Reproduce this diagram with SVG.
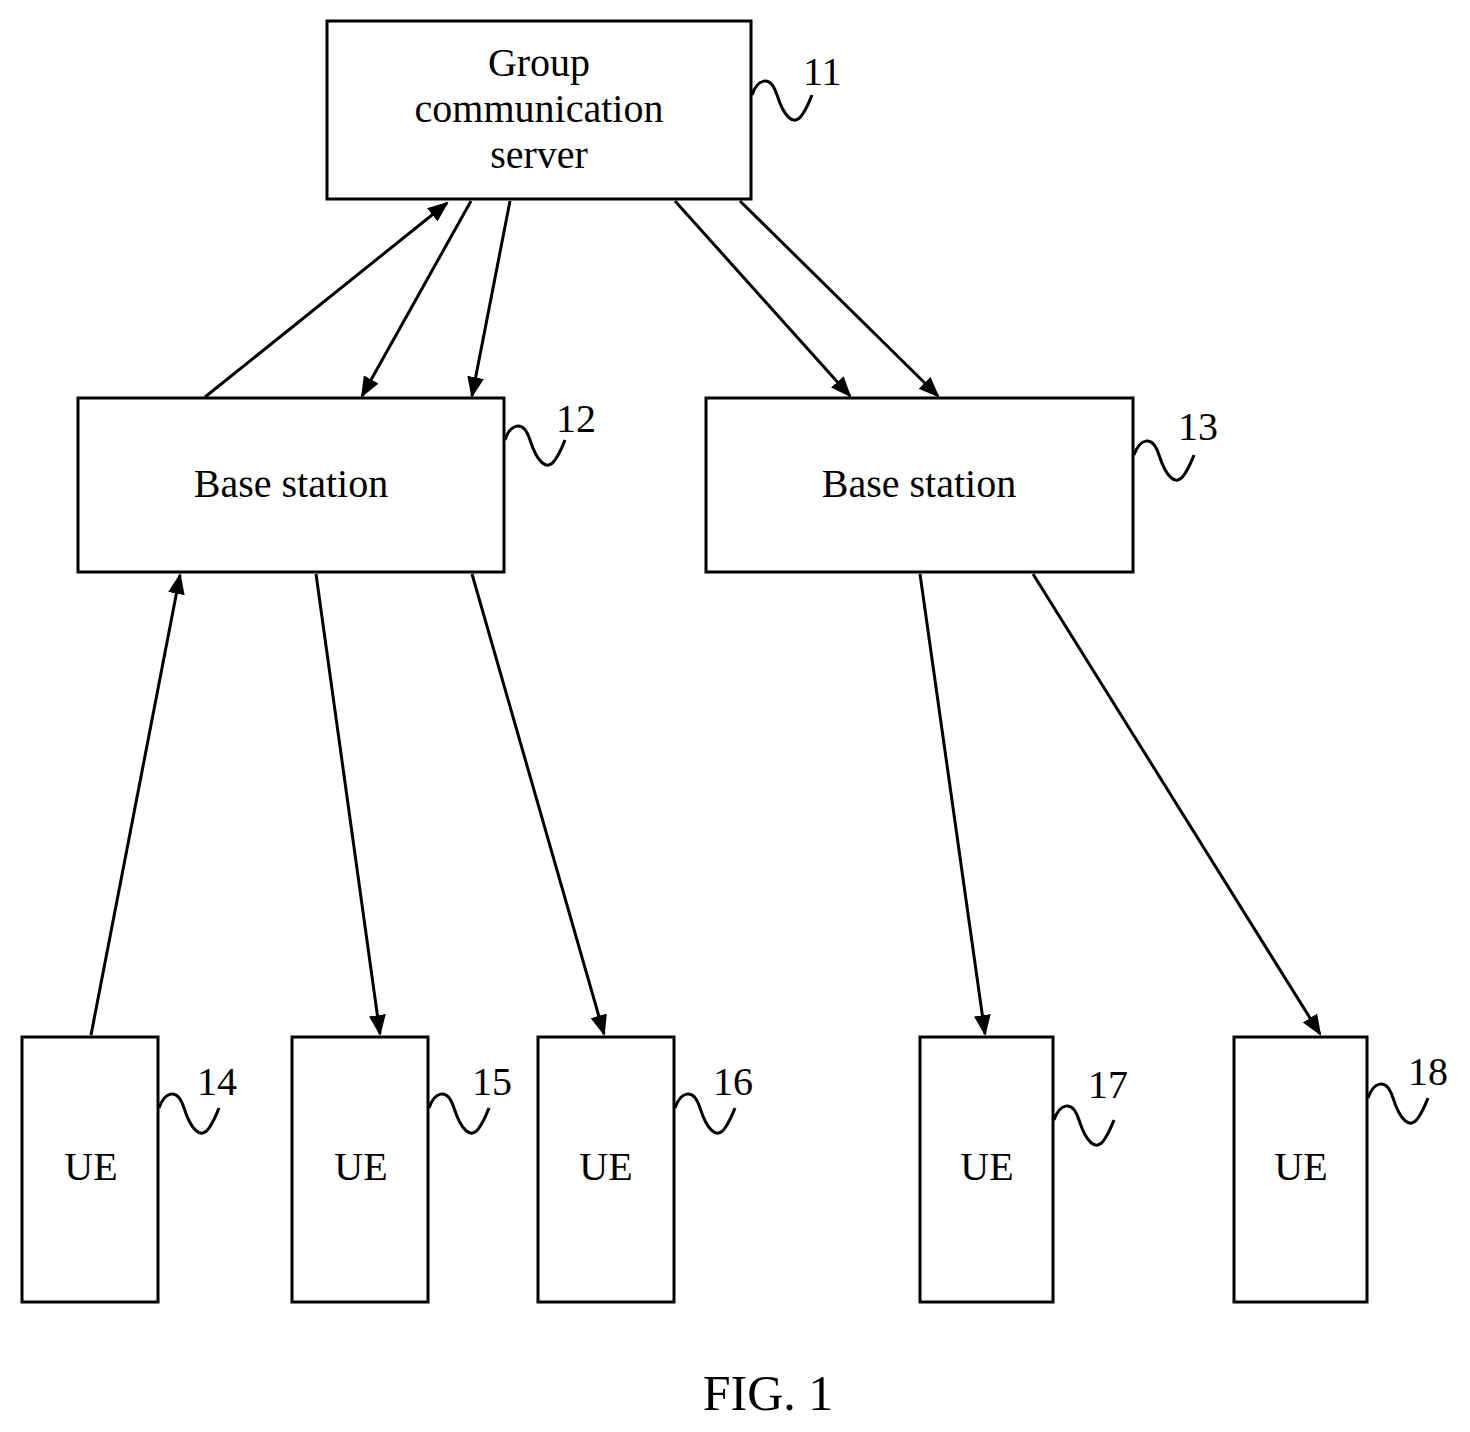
<svg xmlns="http://www.w3.org/2000/svg" width="1470" height="1432" viewBox="0 0 1470 1432">
<style>
.b{fill:#fff;stroke:#000;stroke-width:3}
.t{font-family:"Liberation Serif",serif;font-size:40px;text-anchor:middle}
.l{font-family:"Liberation Serif",serif;font-size:40px}
.c{stroke:#000;stroke-width:3;fill:none;marker-end:url(#a)}
.s{stroke:#000;stroke-width:3;fill:none}
</style>
<defs>
<marker id="a" viewBox="0 0 10 10" refX="9" refY="5" markerWidth="7" markerHeight="7" orient="auto" markerUnits="strokeWidth"><path d="M0,1 L10,5 L0,9 z" fill="#000"/></marker>
<path id="sq" d="M0,0 C5,-15 18,-22 25,0 C32,22 42,32 50,20 C55,13 58,5 60,0"/>
</defs>
<rect width="1470" height="1432" fill="#fff"/>
<g id="n11"><rect class="b" x="327" y="21" width="424" height="178"/><text class="t" x="539" y="76">Group</text><text class="t" x="539" y="122">communication</text><text class="t" x="539" y="168">server</text><use href="#sq" class="s" x="752" y="95"/><text class="l" x="803" y="85">11</text></g>
<g id="n12"><rect class="b" x="78" y="398" width="426" height="174"/><text class="t" x="291" y="497">Base station</text><use href="#sq" class="s" x="505" y="440"/><text class="l" x="556" y="432">12</text></g>
<g id="n13"><rect class="b" x="706" y="398" width="427" height="174"/><text class="t" x="919" y="497">Base station</text><use href="#sq" class="s" x="1134" y="455"/><text class="l" x="1178" y="440">13</text></g>
<g id="n14"><rect class="b" x="22" y="1037" width="136" height="265"/><text class="t" x="91" y="1180">UE</text><use href="#sq" class="s" x="159" y="1108"/><text class="l" x="197" y="1095">14</text></g>
<g id="n15"><rect class="b" x="292" y="1037" width="136" height="265"/><text class="t" x="361" y="1180">UE</text><use href="#sq" class="s" x="429" y="1108"/><text class="l" x="472" y="1095">15</text></g>
<g id="n16"><rect class="b" x="538" y="1037" width="136" height="265"/><text class="t" x="606" y="1180">UE</text><use href="#sq" class="s" x="675" y="1108"/><text class="l" x="713" y="1095">16</text></g>
<g id="n17"><rect class="b" x="920" y="1037" width="133" height="265"/><text class="t" x="987" y="1180">UE</text><use href="#sq" class="s" x="1054" y="1120"/><text class="l" x="1088" y="1098">17</text></g>
<g id="n18"><rect class="b" x="1234" y="1037" width="133" height="265"/><text class="t" x="1301" y="1180">UE</text><use href="#sq" class="s" x="1368" y="1098"/><text class="l" x="1408" y="1085">18</text></g>
<g id="connectors">
<line class="c" x1="205" y1="397" x2="447" y2="203"/>
<line class="c" x1="471" y1="201" x2="362" y2="396"/>
<line class="c" x1="510" y1="201" x2="472" y2="396"/>
<line class="c" x1="675" y1="201" x2="850" y2="396"/>
<line class="c" x1="740" y1="201" x2="938" y2="396"/>
<line class="c" x1="91" y1="1035" x2="180" y2="575"/>
<line class="c" x1="316" y1="574" x2="380" y2="1034"/>
<line class="c" x1="472" y1="574" x2="604" y2="1034"/>
<line class="c" x1="920" y1="574" x2="985" y2="1034"/>
<line class="c" x1="1033" y1="574" x2="1320" y2="1034"/>
</g>
<text class="t" x="768" y="1410" style="font-size:50px">FIG. 1</text>
</svg>
